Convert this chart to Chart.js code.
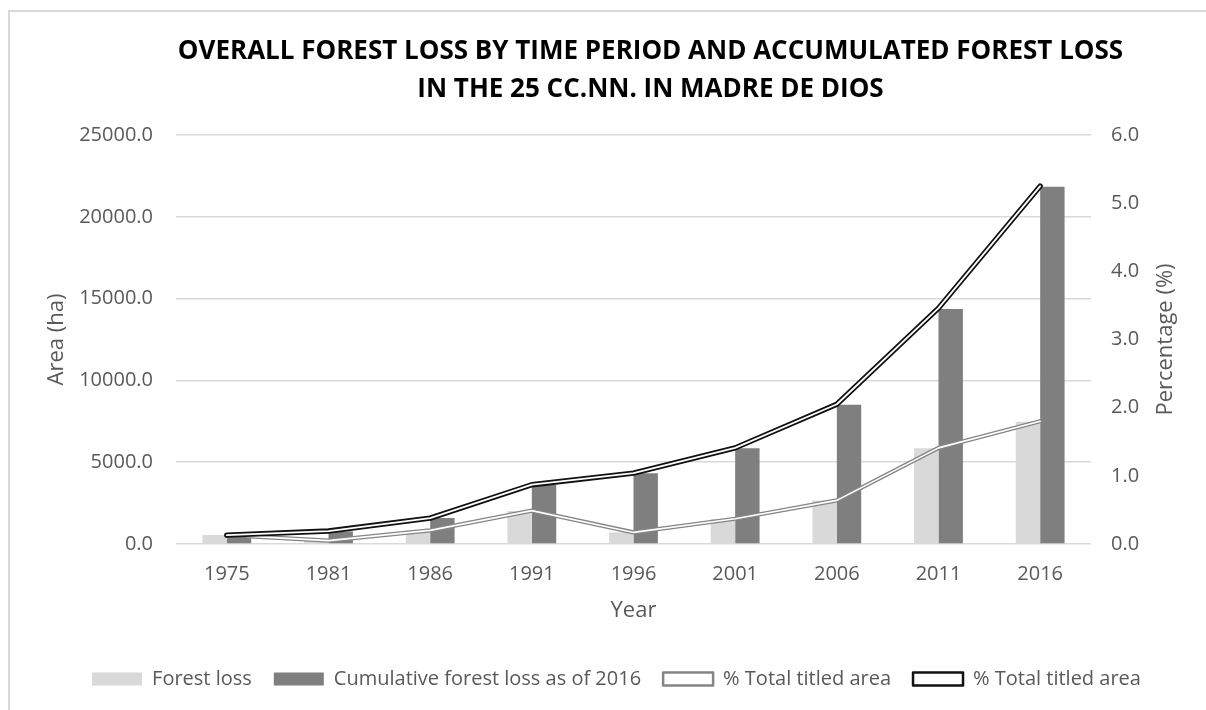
<!DOCTYPE html>
<html><head><meta charset="utf-8">
<script src="https://cdn.jsdelivr.net/npm/chart.js@4.4.1/dist/chart.umd.min.js"></script>
<style>
html,body{margin:0;padding:0;background:#fff;}
#wrap{position:relative;width:1206px;height:710px;overflow:hidden;}
#frame{position:absolute;left:8px;top:10px;width:1300px;height:800px;border:2px solid #d9d9d9;box-sizing:border-box;}
canvas{position:absolute;left:0;top:0;}
</style></head><body>
<div id="wrap"><div id="frame"></div><canvas id="c" width="1206" height="710"></canvas></div>
<script>
const years = ['1975','1981','1986','1991','1996','2001','2006','2011','2016'];
const forestLoss = [550, 220, 820, 2020, 710, 1530, 2660, 5860, 7470];
const cumulativeLoss = [550, 770, 1590, 3610, 4320, 5850, 8510, 14370, 21840];
const pctForestLoss = [0.13, 0.05, 0.20, 0.49, 0.17, 0.37, 0.64, 1.41, 1.80];
const pctCumulative = [0.13, 0.19, 0.38, 0.87, 1.04, 1.41, 2.05, 3.46, 5.25];
const titleLines = ['OVERALL FOREST LOSS BY TIME PERIOD AND ACCUMULATED FOREST LOSS', 'IN THE 25 CC.NN. IN MADRE DE DIOS'];
const seriesNames = ['Forest loss', 'Cumulative forest loss as of 2016', '% Total titled area', '% Total titled area'];

Chart.defaults.font.family = "'Open Sans', sans-serif";
Chart.defaults.color = '#595959';

const txt = '#595959';

const titleShift = {
  id: 'titleShift',
  afterLayout(chart) {
    const t = chart.titleBlock;
    if (t) { t.left += 34; t.right += 34; }
  }
};

const rightTitle = {
  id: 'rightTitle',
  afterDraw(chart) {
    const s = chart.scales.y1;
    const o = s.options.title;
    const ctx = chart.ctx;
    ctx.save();
    ctx.font = "22px 'Open Sans', sans-serif";
    ctx.fillStyle = txt;
    ctx.textAlign = 'center';
    ctx.textBaseline = 'middle';
    const x = s.right - 24 - 13.2;
    const y = (chart.chartArea.top + chart.chartArea.bottom) / 2;
    ctx.translate(x, y);
    ctx.rotate(-Math.PI / 2);
    ctx.fillText(o.text, 0, 0);
    ctx.restore();
  }
};

new Chart(document.getElementById('c'), {
  data: {
    labels: years,
    datasets: [
      { type: 'bar', label: seriesNames[0], data: forestLoss, yAxisID: 'y', backgroundColor: '#d9d9d9', order: 4,
        categoryPercentage: 0.48, barPercentage: 1.0 },
      { type: 'bar', label: seriesNames[1], data: cumulativeLoss, yAxisID: 'y', backgroundColor: '#7f7f7f', order: 5,
        categoryPercentage: 0.48, barPercentage: 1.0 },
      { type: 'line', label: seriesNames[2], data: pctForestLoss, yAxisID: 'y1', borderColor: '#858585', backgroundColor: '#ffffff',
        borderWidth: 4.2, pointRadius: 0, tension: 0, order: 3, borderCapStyle: 'round', borderJoinStyle: 'round' },
      { type: 'line', label: seriesNames[3], data: pctCumulative, yAxisID: 'y1', borderColor: '#111111', backgroundColor: '#ffffff',
        borderWidth: 5.4, pointRadius: 0, tension: 0, order: 1, borderCapStyle: 'round', borderJoinStyle: 'round' },
      { type: 'line', label: '', data: pctForestLoss, yAxisID: 'y1', borderColor: '#ffffff',
        borderWidth: 1.6, pointRadius: 0, tension: 0, order: 2, borderCapStyle: 'round', borderJoinStyle: 'round' },
      { type: 'line', label: '', data: pctCumulative, yAxisID: 'y1', borderColor: '#ffffff',
        borderWidth: 1.8, pointRadius: 0, tension: 0, order: 0, borderCapStyle: 'round', borderJoinStyle: 'round' }
    ]
  },
  options: {
    responsive: false,
    animation: false,
    events: [],
    layout: { padding: { left: 30, right: 3, top: 12, bottom: 11 } },
    plugins: {
      title: {
        display: true,
        text: titleLines,
        color: '#000000',
        font: { size: 26, weight: 'bold', lineHeight: '38px' },
        padding: { top: 21, bottom: 26 }
      },
      legend: {
        position: 'bottom',
        labels: {
          color: txt,
          font: { size: 20 },
          boxWidth: 50,
          boxHeight: 13,
          padding: 22,
          filter: (item) => item.text !== '',
          sort: (a, b) => a.datasetIndex - b.datasetIndex,
          generateLabels: (chart) => {
            const items = Chart.defaults.plugins.legend.labels.generateLabels(chart);
            items.forEach(it => {
              const ds = chart.data.datasets[it.datasetIndex];
              if (ds.type === 'line') { it.lineWidth = 2.5; it.fillStyle = '#ffffff'; }
              else { it.lineWidth = 0; }
            });
            return items;
          }
        }
      },
      tooltip: { enabled: false }
    },
    scales: {
      x: {
        grid: { display: false, drawTicks: false },
        border: { display: false },
        ticks: { color: txt, font: { size: 20 }, padding: 18 },
        title: { display: true, text: 'Year', color: txt, font: { size: 22 }, padding: { top: 4, bottom: 23 } },
        afterFit: (s) => { s.height = 103; }
      },
      y: {
        position: 'left',
        min: 0, max: 25000,
        grid: { color: '#d9d9d9', lineWidth: 1.5, drawTicks: false },
        border: { display: false },
        ticks: { stepSize: 5000, color: txt, font: { size: 20 }, padding: 23, callback: (v) => Number(v).toFixed(1) },
        title: { display: true, text: 'Area (ha)', color: txt, font: { size: 22 }, padding: { top: 14, bottom: 0 } },
        afterFit: (s) => { s.width = 146; }
      },
      y1: {
        position: 'right',
        min: 0, max: 6,
        grid: { display: false, drawTicks: false },
        border: { display: false },
        ticks: { stepSize: 1, color: txt, font: { size: 20 }, padding: 20, callback: (v) => Number(v).toFixed(1) },
        title: { display: false, text: 'Percentage (%)' },
        afterFit: (s) => { s.width = 112; }
      }
    }
  },
  plugins: [titleShift, rightTitle]
});
</script>
</body></html>
